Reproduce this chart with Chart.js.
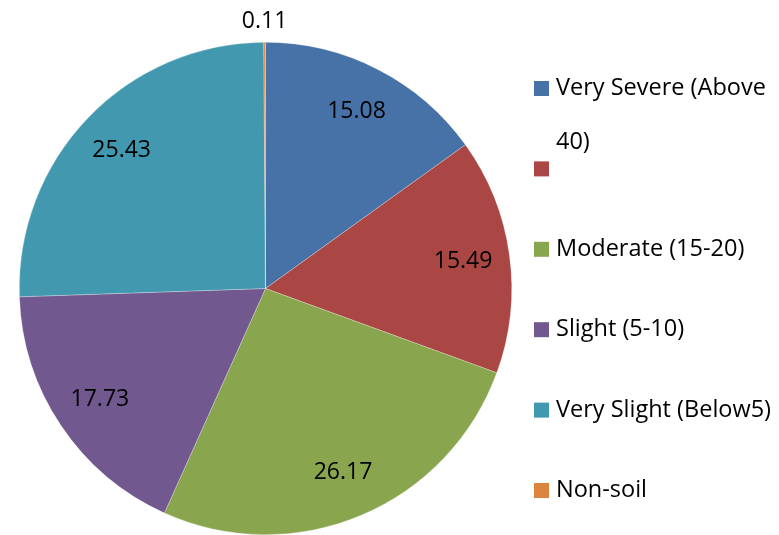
<!DOCTYPE html>
<html>
<head>
<meta charset="utf-8">
<script src="https://cdn.jsdelivr.net/npm/chart.js@4/dist/chart.umd.min.js"></script>
<style>
  html, body { margin: 0; padding: 0; background: #fff; }
  #wrap { width: 779px; height: 535px; position: relative; }
</style>
</head>
<body>
<div id="wrap"><canvas id="pie" width="779" height="535"></canvas></div>
<script>
const categories = ['Very Severe (Above 40)', '', 'Moderate (15-20)', 'Slight (5-10)', 'Very Slight (Below5)', 'Non-soil'];
const values = [15.08, 15.49, 26.17, 17.73, 25.43, 0.11];
const colors = ['#4672A8', '#AA4643', '#89A54E', '#71588F', '#4198AF', '#DB843D'];

const FONT = '"Open Sans", "Noto Sans", sans-serif';

// value labels on the slices
const sliceLabels = {
  id: 'sliceLabels',
  afterDatasetsDraw(chart) {
    const ctx = chart.ctx;
    const meta = chart.getDatasetMeta(0);
    ctx.save();
    ctx.font = '23px ' + FONT;
    ctx.fillStyle = '#000';
    ctx.textAlign = 'center';
    ctx.textBaseline = 'middle';
    meta.data.forEach((arc, i) => {
      const p = arc.getProps(['x', 'y', 'startAngle', 'endAngle', 'outerRadius'], true);
      const mid = (p.startAngle + p.endAngle) / 2;
      const r = values[i] < 1 ? p.outerRadius + 21 : p.outerRadius * 0.81;
      ctx.fillText(values[i].toFixed(2), p.x + Math.cos(mid) * r, p.y + Math.sin(mid) * r);
    });
    ctx.restore();
  }
};

// legend on the right, box + wrapped text
const sideLegend = {
  id: 'sideLegend',
  afterDraw(chart) {
    const ctx = chart.ctx;
    ctx.save();
    ctx.font = '23.5px ' + FONT;
    ctx.textBaseline = 'middle';
    ctx.textAlign = 'left';
    const boxX = 534, textX = 556, maxW = 222;
    categories.forEach((name, i) => {
      const cy = 88.5 + i * 80.4;
      ctx.fillStyle = colors[i];
      ctx.fillRect(boxX, cy - 7.5, 15, 15);
      // simple word wrap
      const words = name.split(' ');
      const lines = [];
      let line = '';
      words.forEach(w => {
        const test = line ? line + ' ' + w : w;
        if (ctx.measureText(test).width > maxW && line) {
          lines.push(line);
          line = w;
        } else {
          line = test;
        }
      });
      if (line) lines.push(line);
      ctx.fillStyle = '#000';
      lines.forEach((l, j) => ctx.fillText(l, textX, cy + j * 54));
    });
    ctx.restore();
  }
};

new Chart(document.getElementById('pie').getContext('2d'), {
  type: 'pie',
  data: {
    labels: categories,
    datasets: [{
      data: values,
      backgroundColor: colors,
      borderColor: 'rgba(255,255,255,0.45)',
      borderWidth: 0.6
    }]
  },
  options: {
    responsive: false,
    animation: false,
    layout: {
      padding: { top: 42, bottom: 0, left: 18, right: 266 }
    },
    plugins: {
      legend: { display: false },
      tooltip: { enabled: false }
    }
  },
  plugins: [sliceLabels, sideLegend]
});
</script>
</body>
</html>
